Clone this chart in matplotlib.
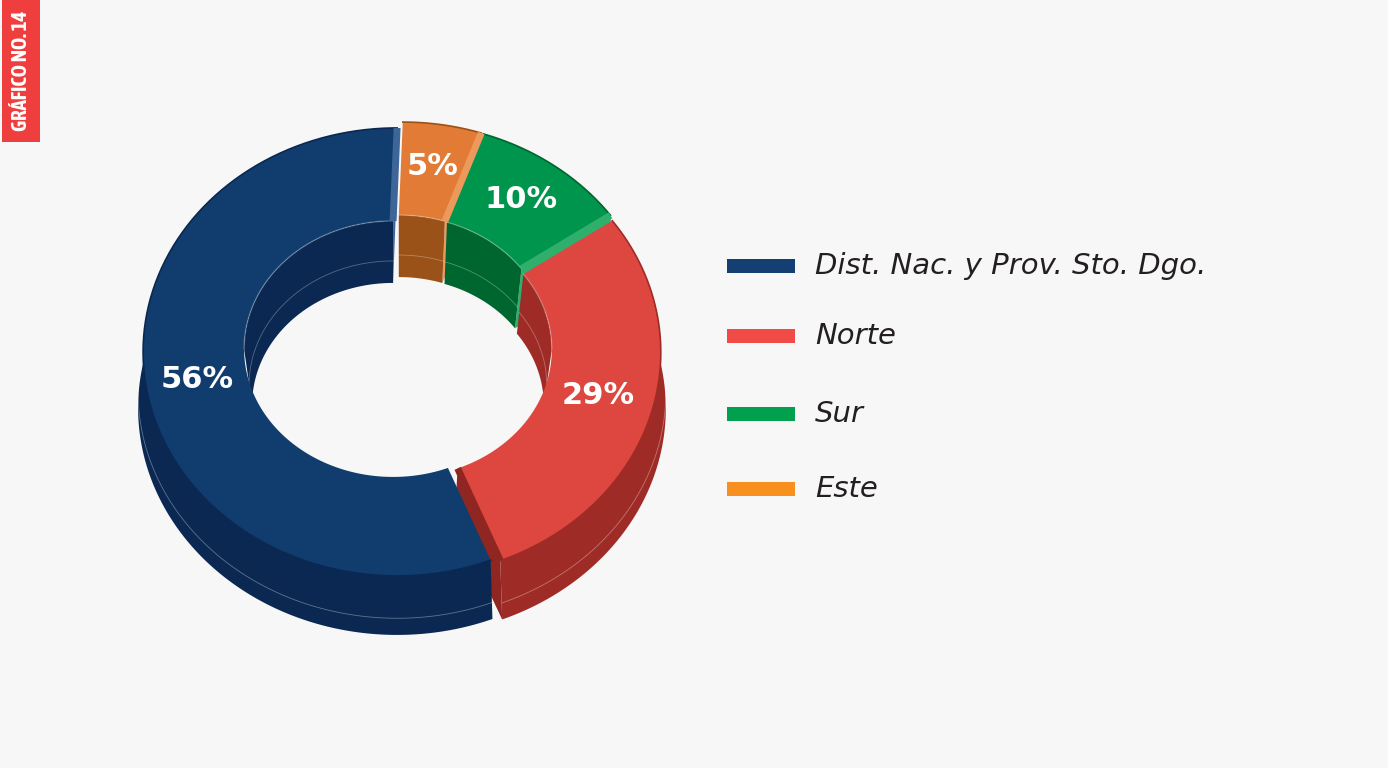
import numpy as np
import matplotlib.pyplot as plt
from matplotlib.patches import Polygon, Rectangle
from matplotlib import font_manager

# data (clockwise from 12 o'clock, as drawn)
categories = ['Este', 'Sur', 'Norte', 'Dist. Nac. y Prov. Sto. Dgo.']
values = [5, 10, 29, 56]
labels = ['5%', '10%', '29%', '56%']

# legend order
legend_names = ['Dist. Nac. y Prov. Sto. Dgo.', 'Norte', 'Sur', 'Este']
legend_colors = ['#133f73', '#f04b46', '#00a04f', '#f7901e']

# colours per slice: top face, wall, end face
top_col = {'Este': '#e17b35', 'Sur': '#00954c', 'Norte': '#de4740',
           'Dist. Nac. y Prov. Sto. Dgo.': '#113d6e'}
wall_col = {'Este': '#9a5218', 'Sur': '#006630', 'Norte': '#9f2b26',
            'Dist. Nac. y Prov. Sto. Dgo.': '#0a2852'}
face_col = {'Este': '#eb9a5c', 'Sur': '#2fae6c', 'Norte': '#8f2622',
            'Dist. Nac. y Prov. Sto. Dgo.': '#3d6598'}

# geometry in pixels (figure is 1388x768, y goes down)
ocx, ocy, orx, ory = 402, 351, 254, 224      # outer rim, top face
icx, icy, irx, iry = 398, 348, 149, 128      # inner rim, top face
hcx, hcy, hrx, hry = 398, 404, 141, 122      # bottom of inner wall
depth = 56
spread = 5
explode = 5

fig = plt.figure(figsize=(13.88, 7.68), dpi=100)
fig.patch.set_facecolor('#f7f7f7')
ax = fig.add_axes([0, 0, 1, 1])
ax.set_xlim(0, 1388)
ax.set_ylim(768, 0)
ax.axis('off')


def pt(cx, cy, rx, ry, a, dx=0, dy=0):
    r = np.radians(a)
    return np.column_stack([cx + rx * np.cos(r) + dx, cy - ry * np.sin(r) + dy])


def area(p):
    x, y = p[:, 0], p[:, 1]
    return 0.5 * np.sum(x * np.roll(y, -1) - np.roll(x, -1) * y)


def clip(a1, a2, lo, hi):
    # slice runs from a1 down to a2 (a1 > a2); return part inside [lo, hi]
    out = []
    for k in (-360, 0, 360):
        s, e = min(a1, hi + k), max(a2, lo + k)
        if s > e:
            out.append((s - k, e - k))
    return out


slices = []
start = 90.0
for name, v, lab in zip(categories, values, labels):
    a1 = start
    a2 = start - v / sum(values) * 360
    mid = (a1 + a2) / 2
    dx = explode * np.cos(np.radians(mid))
    dy = -explode * np.sin(np.radians(mid))
    slices.append((name, a1, a2, mid, dx, dy, lab))
    start = a2

# end faces at the cuts
bevels = []
for name, a1, a2, mid, dx, dy, lab in slices:
    for a, sign in ((a1, -1), (a2, 1)):
        it = pt(icx, icy, irx, iry, [a], dx, dy)[0]
        ot = pt(ocx, ocy, orx, ory, [a], dx, dy)[0]
        ob = pt(ocx, ocy + depth, orx + spread, ory + 3, [a], dx, dy)[0]
        ib = pt(hcx, hcy, hrx, hry, [a], dx, dy)[0]
        quad = np.array([it, ot, ob, ib])
        if area(quad) * sign > 0:
            ax.add_patch(Polygon(quad, closed=True, fc=face_col[name],
                                 ec='none', zorder=1))
            bevels.append((name, it, ot))

# inner walls (far side of the hole)
for name, a1, a2, mid, dx, dy, lab in slices:
    for s, e in clip(a1, a2, 0, 180):
        a = np.linspace(s, e, 60)
        top = pt(icx, icy, irx, iry, a, dx, dy)
        bot = pt(hcx, hcy, hrx, hry, a, dx, dy)
        ax.add_patch(Polygon(np.vstack([top, bot[::-1]]), closed=True,
                             fc=wall_col[name], ec='none', zorder=2))
        seam = pt(hcx, hcy - 20, hrx + 3, hry + 2, a, dx, dy)
        ax.plot(seam[:, 0], seam[:, 1], color='white', lw=0.6, alpha=0.3,
                zorder=2.1)

# outer walls (front, a bit wider at the base)
for name, a1, a2, mid, dx, dy, lab in slices:
    for s, e in clip(a1, a2, -192, 12):
        a = np.linspace(s, e, 120)
        top = pt(ocx, ocy, orx, ory, a, dx, dy)
        bot = pt(ocx, ocy + depth, orx + spread, ory + 3, a, dx, dy)
        ax.add_patch(Polygon(np.vstack([top, bot[::-1]]), closed=True,
                             fc=wall_col[name], ec='none', zorder=3))
        seam = pt(ocx, ocy + depth * 0.72, orx + spread, ory + 2, a, dx, dy)
        ax.plot(seam[:, 0], seam[:, 1], color='white', lw=0.6, alpha=0.35,
                zorder=3.1)

# top faces
for name, a1, a2, mid, dx, dy, lab in slices:
    a = np.linspace(a1, a2, 200)
    outer = pt(ocx, ocy, orx, ory, a, dx, dy)
    inner = pt(icx, icy, irx, iry, a[::-1], dx, dy)
    ax.add_patch(Polygon(np.vstack([outer, inner]), closed=True,
                         fc=top_col[name], ec='none', zorder=4))
    ax.plot(outer[:, 0], outer[:, 1], color=wall_col[name], lw=1.2, zorder=4.1)
    # rim highlight on the far inner edge
    for s, e in clip(a1, a2, 0, 180):
        b = np.linspace(s, e, 60)
        rim = pt(icx, icy, irx, iry, b, dx, dy)
        ax.plot(rim[:, 0], rim[:, 1], color='white', lw=1.0, alpha=0.25,
                zorder=4.2)
    # percentage label
    lx = (ocx + icx) / 2 + 0.5 * (orx + irx) * np.cos(np.radians(mid)) + dx
    ly = (ocy + icy) / 2 - 0.5 * (ory + iry) * np.sin(np.radians(mid)) + dy - 4
    ax.text(lx, ly, lab, color='white', fontsize=22, fontweight='bold',
            ha='center', va='center', zorder=5)

# bevelled edge where a cut face shows
for name, it, ot in bevels:
    ax.plot([it[0], ot[0]], [it[1], ot[1]], color=face_col[name], lw=5,
            solid_capstyle='butt', zorder=4.3)

# legend
leg_y = [266, 336, 414, 489]
for name, c, y in zip(legend_names, legend_colors, leg_y):
    ax.add_patch(Rectangle((727, y - 7), 68, 14, fc=c, ec='none'))
    ax.text(815, y, name, fontsize=21, style='italic', color='#231f20',
            ha='left', va='center')


# tag: use a bold narrow face if one is installed
def is_bold(w):
    if isinstance(w, str):
        return w.lower() in ('bold', 'heavy', 'black', 'demibold', 'semibold')
    return w >= 600


narrow = sorted({f.name for f in font_manager.fontManager.ttflist
                 if ('Condensed' in f.name or 'Narrow' in f.name)
                 and is_bold(f.weight)})
ax.add_patch(Rectangle((2, 0), 38, 142, fc='#ef3e3e', ec='none'))
tag = ax.text(21, 71, 'GRÁFICO NO. 14', rotation=90, color='white',
              fontsize=17, fontweight='bold', fontstretch='condensed',
              family=narrow[:1] + ['DejaVu Sans'],
              ha='center', va='center')
r = fig.canvas.get_renderer()
while tag.get_window_extent(r).height > 124 and tag.get_fontsize() > 6:
    tag.set_fontsize(tag.get_fontsize() - 0.5)

plt.savefig('out.png', dpi=100, facecolor=fig.get_facecolor())
